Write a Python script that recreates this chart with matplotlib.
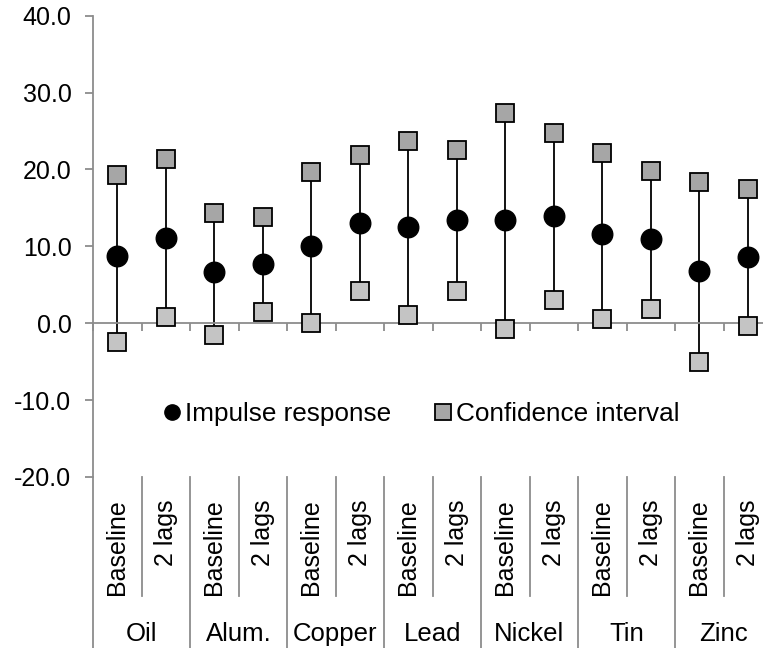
import matplotlib
matplotlib.use("Agg")
import matplotlib.pyplot as plt
import matplotlib.transforms as mtransforms
from matplotlib.lines import Line2D
import numpy as np

plt.rcParams['font.family'] = ['Liberation Sans', 'DejaVu Sans']

commodities = ["Oil", "Alum.", "Copper", "Lead", "Nickel", "Tin", "Zinc"]
specs = ["Baseline", "2 lags"]

impulse = [8.7, 11.1, 6.6, 7.7, 10.0, 13.1, 12.5, 13.4, 13.4, 14.0, 11.6, 11.0, 6.8, 8.6]
upper = [19.3, 21.3, 14.4, 13.8, 19.7, 21.9, 23.7, 22.5, 27.3, 24.7, 22.2, 19.8, 18.4, 17.4]
lower = [-2.4, 0.8, -1.5, 1.4, 0.0, 4.2, 1.1, 4.2, -0.7, 3.0, 0.6, 1.9, -5.0, -0.3]

yticks = [-20, -10, 0, 10, 20, 30, 40]

W, H = 763, 648
fig = plt.figure(figsize=(W / 100, H / 100), dpi=100)

# plot area: y axis at x=93 px, 14 slots of ~48.5 px (last one runs off the edge)
left_px, slot_px = 93, 48.5
top_px, bot_px = 15.7, 477
ax = fig.add_axes([left_px / W, 1 - bot_px / H,
                   14 * slot_px / W, (bot_px - top_px) / H])

n = len(impulse)
x = np.arange(n) + 0.5
axis_grey = "#8c8c8c"

ax.vlines(x, lower, upper, color="black", lw=1.3, zorder=2)
ax.plot(x, upper, ls="none", marker="s", ms=13.5, mfc="#a6a6a6",
        mec="black", mew=1.3, zorder=3, clip_on=False)
ax.plot(x, lower, ls="none", marker="s", ms=13.5, mfc="#c4c4c4",
        mec="black", mew=1.3, zorder=3, clip_on=False)
ax.plot(x, impulse, ls="none", marker="o", ms=14.8, mfc="black",
        mec="black", zorder=4, clip_on=False)

ax.set_xlim(0, n)
ax.set_ylim(-20, 40)
ax.set_yticks(yticks)
ax.set_yticklabels([f"{v:.1f}" for v in yticks], fontsize=18)
ax.set_xticks(np.arange(n + 1))
ax.set_xticklabels([])

for s in ["top", "right"]:
    ax.spines[s].set_visible(False)
ax.spines["left"].set_color(axis_grey)
ax.spines["left"].set_linewidth(1.3)
ax.spines["bottom"].set_position(("data", 0))
ax.spines["bottom"].set_color(axis_grey)
ax.spines["bottom"].set_linewidth(1.3)
ax.tick_params(axis="y", direction="out", length=5.5, width=1.3,
               color=axis_grey, pad=10, labelcolor="black")
ax.tick_params(axis="x", direction="out", length=5.5, width=1.3,
               color=axis_grey)

# multi-level category labels below the plot area
bt = mtransforms.blended_transform_factory(ax.transData, fig.transFigure)
y_top = 1 - bot_px / H
y_inner = 1 - 596 / H
fig.add_artist(Line2D([0, 0], [y_top, 0], transform=bt, color=axis_grey, lw=1.3))
for i in range(n + 1):
    if i % 2 == 1:
        fig.add_artist(Line2D([i, i], [y_top, y_inner], transform=bt,
                              color=axis_grey, lw=1.3))
    elif i > 0:
        fig.add_artist(Line2D([i, i], [y_top, 0], transform=bt,
                              color=axis_grey, lw=1.3))
for i in range(n):
    ax.text(x[i], 1 - 499 / H, specs[i % 2], transform=bt, rotation=90,
            ha="center", va="top", fontsize=18)
for g, name in enumerate(commodities):
    ax.text(2 * g + 1, 1 - 634 / H, name, transform=bt,
            ha="center", va="center", fontsize=18.5)

handles = [
    Line2D([], [], ls="none", marker="o", ms=11, mfc="black", mec="black"),
    Line2D([], [], ls="none", marker="s", ms=11, mfc="#a6a6a6", mec="black", mew=1.3),
]
fig.legend(handles, ["Impulse response", "Confidence interval"],
           loc="center", bbox_to_anchor=(422 / W, 1 - 414 / H), ncol=2,
           frameon=False, fontsize=18.8, handlelength=0.6, handletextpad=0.2,
           columnspacing=1.7, borderpad=0)

fig.savefig("out.png", dpi=100)
